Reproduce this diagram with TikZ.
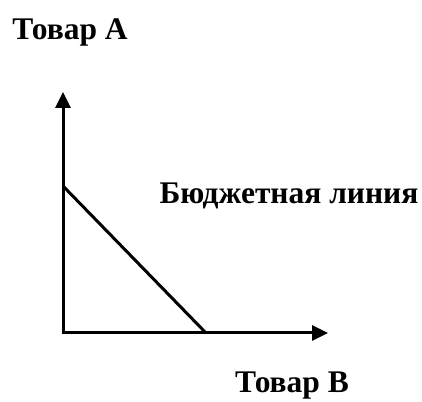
\documentclass[tikz,border=0pt]{standalone}
\usepackage{fontspec}
\setmainfont{Liberation Serif}
\usetikzlibrary{arrows.meta}
\begin{document}
\begin{tikzpicture}[x=1pt,y=1pt,
  lbl/.style={font=\fontsize{31.5}{36}\selectfont\bfseries, inner sep=0pt},
  axis/.style={line width=3pt, -{Triangle[width=15pt,length=16pt]}},
  budget/.style={line width=3pt}]
\useasboundingbox (0,0) rectangle (422,401);
\coordinate (O) at (63,68);
\coordinate (Ytop) at (63,309);
\coordinate (Xend) at (328,68);
\coordinate (A) at (63,215);
\coordinate (B) at (206,68);
\draw[axis] ([yshift=-1.5pt]O) -- (Ytop);
\draw[axis] ([xshift=-1.5pt]O) -- (Xend);
\draw[budget] (A) -- (B);
\node[lbl] (ta) at (70,369) {Товар А};
\node[lbl] (bl) at (289,205) {Бюджетная линия};
\node[lbl] (tb) at (292,15) {Товар В};
\end{tikzpicture}
\end{document}
